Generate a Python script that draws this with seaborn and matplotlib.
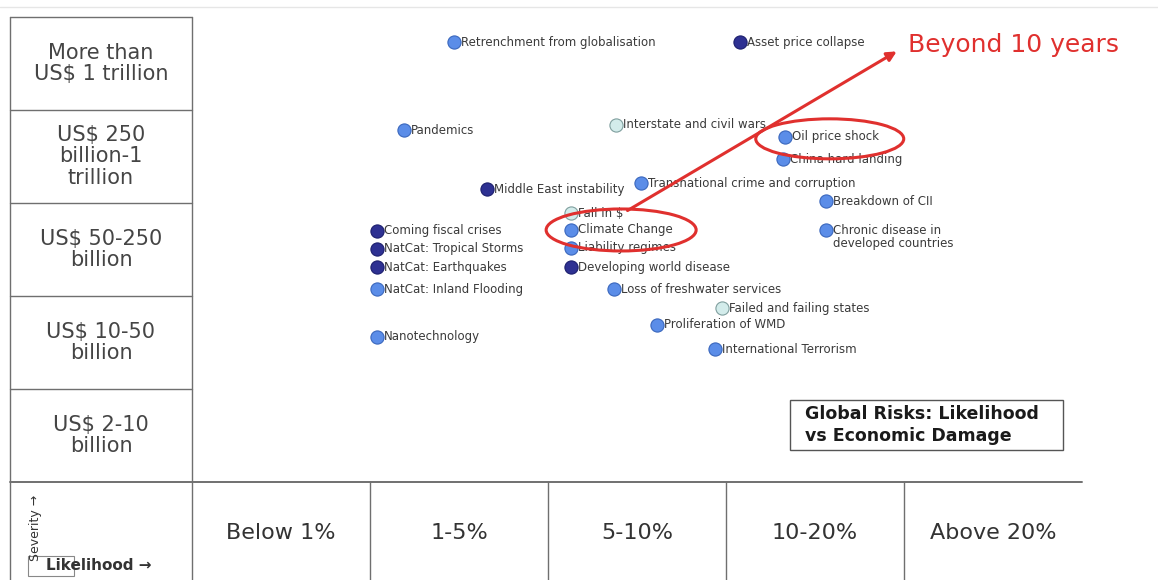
import numpy as np
import pandas as pd
import matplotlib
matplotlib.use("Agg")
import matplotlib.pyplot as plt
import seaborn as sns
from matplotlib.patches import Ellipse, Rectangle

# ---------------- data ----------------
severity_labels = ["US$ 2-10\nbillion", "US$ 10-50\nbillion", "US$ 50-250\nbillion",
                   "US$ 250\nbillion-1\ntrillion", "More than\nUS$ 1 trillion"]
likelihood_labels = ["Below 1%", "1-5%", "5-10%", "10-20%", "Above 20%"]

risks = ["Retrenchment from globalisation", "Asset price collapse", "Pandemics",
         "Interstate and civil wars", "Oil price shock", "China hard landing",
         "Middle East instability", "Transnational crime and corruption",
         "Breakdown of CII", "Fall in $", "Climate Change", "Liability regimes",
         "Developing world disease", "Coming fiscal crises", "NatCat: Tropical Storms",
         "NatCat: Earthquakes", "NatCat: Inland Flooding", "Loss of freshwater services",
         "Chronic disease in\ndeveloped countries", "Failed and failing states",
         "Proliferation of WMD", "Nanotechnology", "International Terrorism"]
# likelihood (column units, 0 = left edge of "Below 1%")
likelihood = [1.47, 3.08, 1.19, 2.38, 3.33, 3.32, 1.66, 2.52, 3.56, 2.13, 2.13, 2.13,
              2.13, 1.04, 1.04, 1.04, 1.04, 2.37, 3.56, 2.98, 2.61, 1.04, 2.94]
# severity (row units, 0 = bottom of "US$ 2-10 billion")
severity = [4.73, 4.73, 3.78, 3.84, 3.71, 3.47, 3.15, 3.21, 3.02, 2.89, 2.71, 2.52,
            2.31, 2.70, 2.51, 2.31, 2.07, 2.07, 2.71, 1.87, 1.69, 1.56, 1.43]
group = ["mid", "dark", "mid", "pale", "mid", "mid", "dark", "mid", "mid", "pale", "mid",
         "mid", "dark", "dark", "dark", "dark", "mid", "mid", "mid", "pale", "mid", "mid", "mid"]

df = pd.DataFrame({"risk": risks, "likelihood": likelihood, "severity": severity, "group": group})

palette = {"dark": "#2E3192", "mid": "#5B8DE8", "pale": "#D3ECEB"}
edges = {"dark": "#1C1F6E", "mid": "#3A67BD", "pale": "#7F9F9E"}

# ---------------- figure ----------------
sns.set_style("white")
plt.rcParams["font.family"] = ["DejaVu Sans"]

W, H = 1158, 580
fig = plt.figure(figsize=(W / 100, H / 100), dpi=100)
left_px, right_px, top_px, bot_px = 192, 1082, 17, 482
ax = fig.add_axes([left_px / W, 1 - bot_px / H, (right_px - left_px) / W, (bot_px - top_px) / H])
ax.set_xlim(0, 5)
ax.set_ylim(0, 5)
ax.axis("off")

sx = (right_px - left_px) / 5.0   # px per column
sy = (bot_px - top_px) / 5.0      # px per row
xl = -(left_px - 10) / sx         # left edge of label column
yb = -(H - bot_px) / sy           # bottom of figure

line_kw = dict(color="#6f6f6f", lw=1.0, clip_on=False, zorder=1)
# label column
ax.plot([xl, xl], [5, yb], **line_kw)
ax.plot([0, 0], [5, yb], **line_kw)
for r in range(1, 6):
    ax.plot([xl, 0], [r, r], **line_kw)
ax.plot([xl, 5], [0, 0], color="#707070", lw=1.4, clip_on=False, zorder=1)
for c in range(1, 5):
    ax.plot([c, c], [0, yb], **line_kw)

for i, lab in enumerate(severity_labels):
    ax.text(xl / 2, i + 0.5, lab, ha="center", va="center", fontsize=15,
            color="#454545", linespacing=1.12, clip_on=False)
for i, lab in enumerate(likelihood_labels):
    ax.text(i + 0.5, -51 / sy, lab, ha="center", va="center", fontsize=16,
            color="#333333", clip_on=False)

# scatter
for g in ["pale", "mid", "dark"]:
    sub = df[df.group == g]
    sns.scatterplot(data=sub, x="likelihood", y="severity", ax=ax, color=palette[g],
                    edgecolor=edges[g], linewidth=0.8, s=90, zorder=3, legend=False)
for _, row in df.iterrows():
    two = "\n" in row.risk
    ax.annotate(row.risk, (row.likelihood, row.severity), xytext=(5, 4 if two else 0),
                textcoords="offset points", ha="left", va="top" if two else "center",
                fontsize=8.5, color="#3a3a3a", zorder=4, linespacing=1.0)

# red annotations
red = "#E0302E"
cc = df[df.risk == "Climate Change"].iloc[0]
op = df[df.risk == "Oil price shock"].iloc[0]
ax.add_patch(Ellipse((cc.likelihood + 50 / sx, cc.severity), 150 / sx, 42 / sy,
                     fill=False, ec=red, lw=2.2, zorder=5))
ax.add_patch(Ellipse((op.likelihood + 45 / sx, op.severity - 0.02), 148 / sx, 40 / sy,
                     fill=False, ec=red, lw=2.2, zorder=5))
ax.annotate("", xy=(cc.likelihood + 328 / sx, cc.severity + 180 / sy),
            xytext=(cc.likelihood + 54 / sx, cc.severity + 18 / sy),
            arrowprops=dict(arrowstyle="-|>", color=red, lw=2.2, mutation_scale=14),
            zorder=5, annotation_clip=False)
fig.text(908 / W, 1 - 45 / H, "Beyond 10 years", fontsize=18, color=red,
         ha="left", va="center")

# title box
fig.text(805 / W, 1 - 425 / H, "Global Risks: Likelihood\nvs Economic Damage",
         fontsize=12.5, fontweight="bold", color="#1a1a1a", ha="left", va="center",
         linespacing=1.3)
fig.patches.append(Rectangle((790 / W, 1 - 450 / H), 273 / W, 50 / H, transform=fig.transFigure,
                             fill=False, ec="#555555", lw=1.0))

# bottom-left axis legend
fig.text(36 / W, 1 - 528 / H, "Severity \u2192", rotation=90, fontsize=9, color="#333333",
         ha="center", va="center")
fig.text(46 / W, 1 - 565 / H, "Likelihood \u2192", fontsize=11, fontweight="bold",
         color="#333333", ha="left", va="center")
fig.patches.append(Rectangle((28 / W, 1 - 576 / H), 46 / W, 20 / H, transform=fig.transFigure,
                             fill=False, ec="#888888", lw=0.8))
# faint top border
fig.lines.append(plt.Line2D([0, 1], [1 - 7 / H, 1 - 7 / H], transform=fig.transFigure,
                            color="#e6e6e6", lw=1.0))

fig.savefig("out.png", dpi=100, facecolor="white")
